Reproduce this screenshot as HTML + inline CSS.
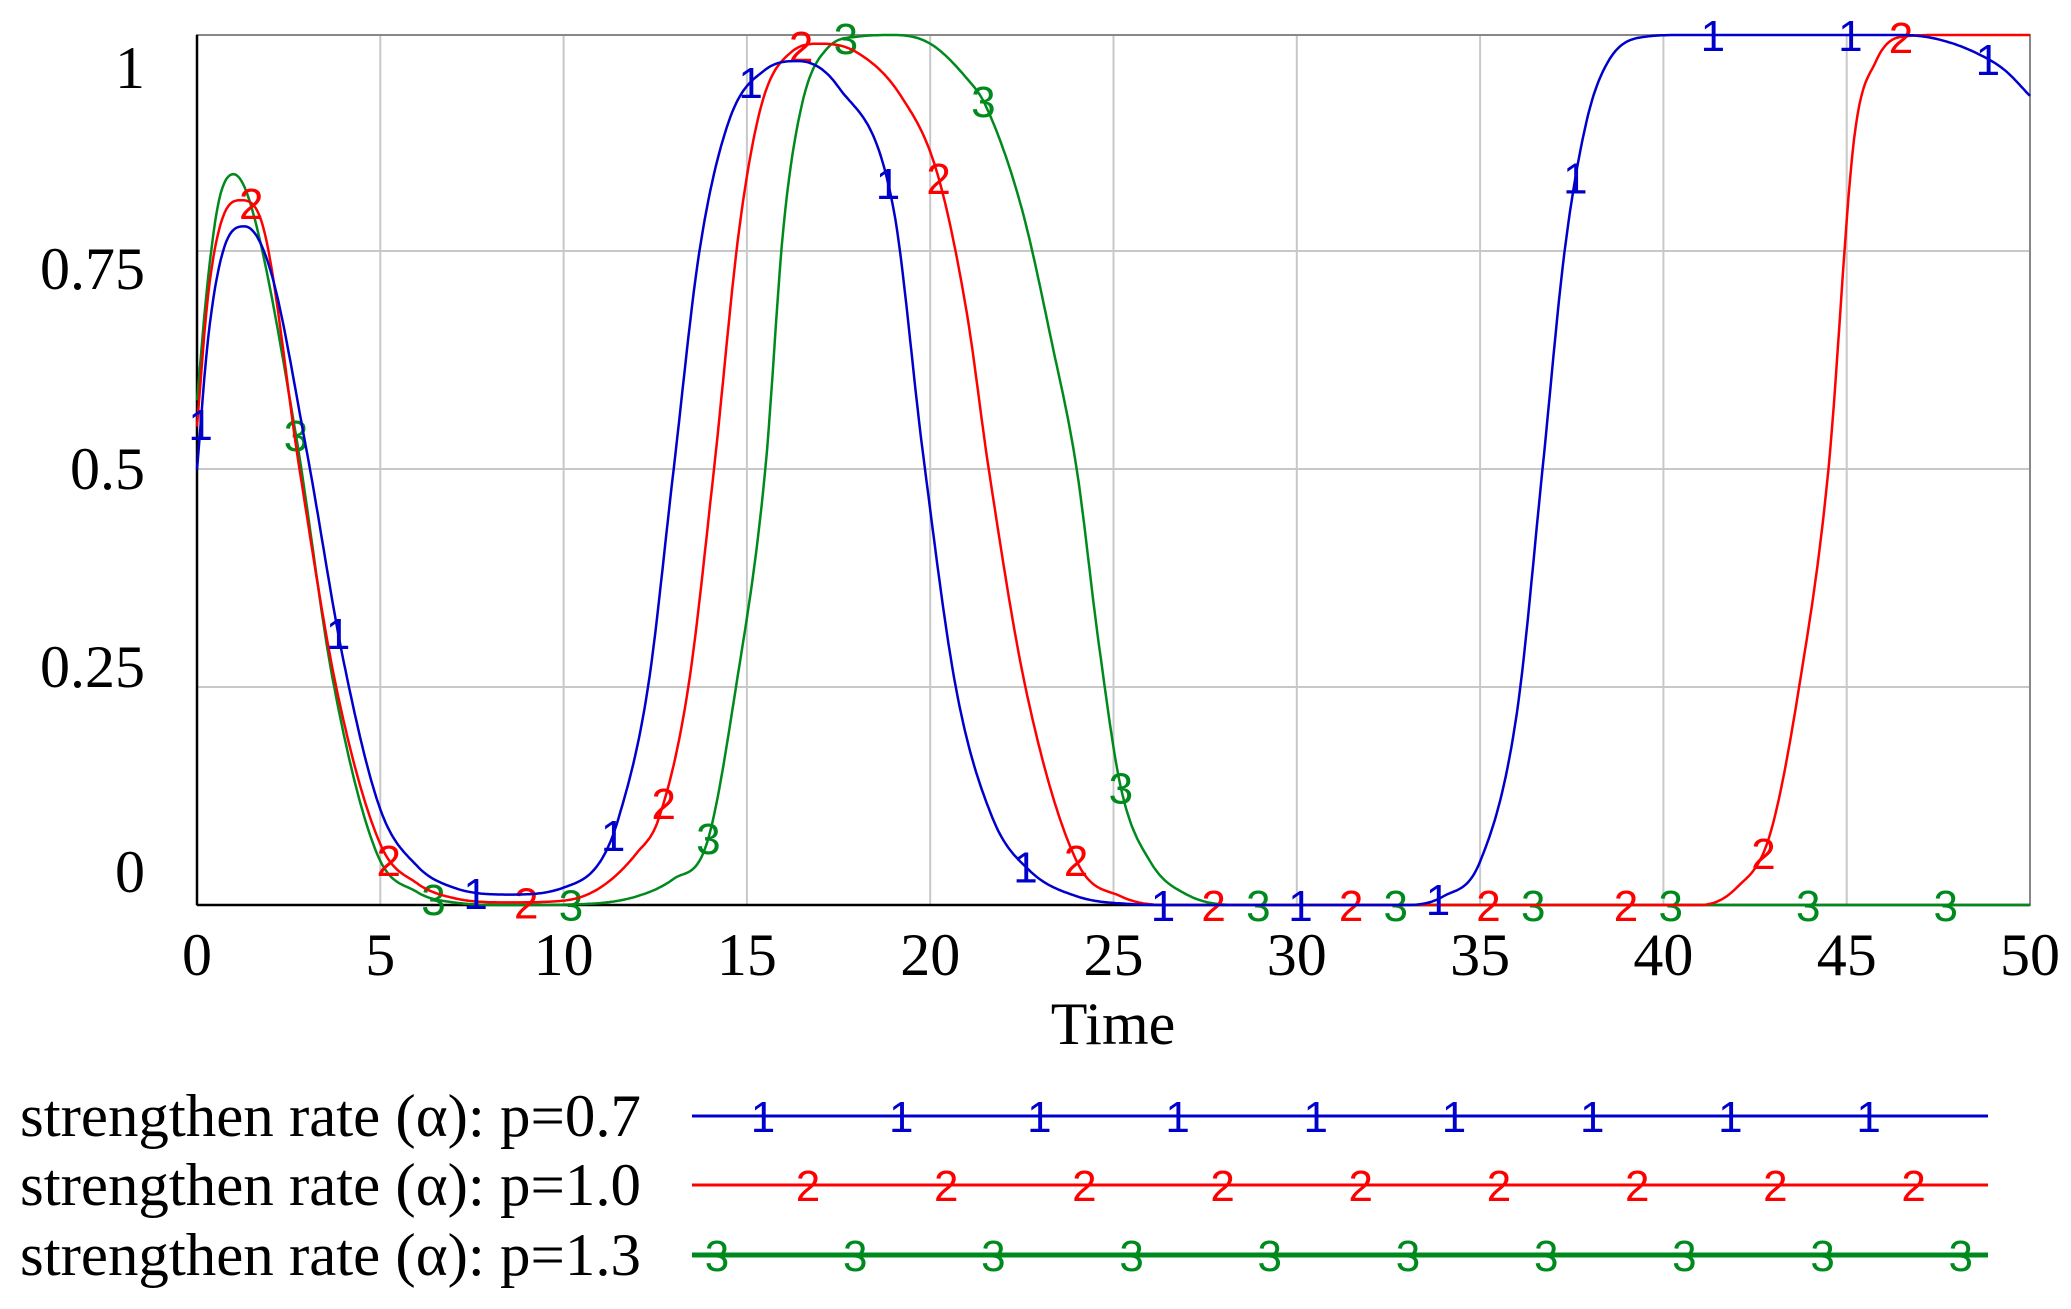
<!DOCTYPE html>
<html><head><meta charset="utf-8"><style>
html,body{margin:0;padding:0;background:#fff;}
svg{display:block;}
.tk{font-family:"Liberation Serif",serif;font-size:60px;fill:#000;}
.mk{font-family:"Liberation Sans",sans-serif;font-size:44px;}
</style></head><body>
<svg id="s" width="2071" height="1309" viewBox="0 0 2071 1309" xmlns="http://www.w3.org/2000/svg">
<g stroke="#c8c8c8" stroke-width="2">
<line x1="197" y1="251" x2="2030" y2="251"/><line x1="197" y1="469" x2="2030" y2="469"/><line x1="197" y1="687" x2="2030" y2="687"/>
</g>
<g id="vg" stroke="#c8c8c8" stroke-width="2"></g>
<rect x="197" y="35" width="1833" height="870" fill="none" stroke="#888" stroke-width="2"/>
<line x1="197" y1="35" x2="197" y2="905" stroke="#000" stroke-width="2.5"/>
<line x1="197" y1="905" x2="2030" y2="905" stroke="#000" stroke-width="2.5"/>
<g class="tk" text-anchor="end">
<text x="145" y="88">1</text><text x="145" y="289">0.75</text><text x="145" y="489">0.5</text><text x="145" y="687">0.25</text><text x="145" y="892">0</text>
</g>
<g id="xt" class="tk" text-anchor="middle"></g>
<text class="tk" x="1113" y="1044" text-anchor="middle">Time</text>
<g id="curves"></g>
<g class="tk">
<text x="20" y="1136" textLength="621" lengthAdjust="spacingAndGlyphs">strengthen rate (α): p=0.7</text>
<text x="20" y="1205" textLength="621" lengthAdjust="spacingAndGlyphs">strengthen rate (α): p=1.0</text>
<text x="20" y="1275" textLength="621" lengthAdjust="spacingAndGlyphs">strengthen rate (α): p=1.3</text>
</g>
<g id="leg"></g>
</svg>
<script>
var NS="http://www.w3.org/2000/svg";
function el(t,a,p,txt){var e=document.createElementNS(NS,t);for(var k in a)e.setAttribute(k,a[k]);if(txt!==undefined)e.textContent=txt;p.appendChild(e);return e;}
var X=function(t){return 197+t*36.66;},Y=function(v){return 905-v*870;};
var vg=document.getElementById('vg'),xt=document.getElementById('xt');
for(var i=0;i<=10;i++){var x=X(i*5);if(i>0&&i<10)el('line',{x1:x,y1:35,x2:x,y2:905},vg);el('text',{x:x,y:975},xt,String(i*5));}
function mono(pts){var n=pts.length,xs=pts.map(p=>p[0]),ys=pts.map(p=>p[1]),d=[],m=[];
for(var i=0;i<n-1;i++)d.push((ys[i+1]-ys[i])/(xs[i+1]-xs[i]));
m[0]=d[0];m[n-1]=d[n-2];for(i=1;i<n-1;i++){m[i]=(d[i-1]*d[i]<=0)?0:(d[i-1]+d[i])/2;}
for(i=0;i<n-1;i++){if(d[i]==0){m[i]=0;m[i+1]=0;continue;}var a=m[i]/d[i],b=m[i+1]/d[i],h=a*a+b*b;if(h>9){var tt=3/Math.sqrt(h);m[i]=tt*a*d[i];m[i+1]=tt*b*d[i];}}
return function(x){var k=0;while(k<n-2&&x>xs[k+1])k++;var h=xs[k+1]-xs[k],t=(x-xs[k])/h,t2=t*t,t3=t2*t;
return (2*t3-3*t2+1)*ys[k]+(t3-2*t2+t)*h*m[k]+(-2*t3+3*t2)*ys[k+1]+(t3-t2)*h*m[k+1];};}
var B=[[0,0.5],[0.3,0.65],[0.7,0.75],[1.3,0.78],[2,0.73],[3,0.52],[4,0.28],[5,0.11],[6,0.045],[7,0.02],[8.5,0.012],[10,0.02],[11,0.05],[11.5,0.1],[12.3,0.25],[13,0.5],[13.7,0.75],[14.5,0.9],[15.5,0.96],[16.4,0.97],[17.5,0.94],[19,0.8],[19.8,0.52],[20.7,0.25],[21.7,0.1],[22.7,0.04],[24,0.01],[25.5,0.001],[26.5,0],[33,0],[34,0.01],[35,0.05],[36,0.22],[36.7,0.5],[37.3,0.75],[37.9,0.9],[38.5,0.97],[39.5,0.998],[40.5,1],[46.5,1],[47.5,0.995],[48.5,0.98],[49.3,0.96],[50,0.93]];
var R=[[0,0.55],[0.3,0.7],[0.7,0.79],[1.2,0.81],[1.8,0.78],[2.8,0.5],[3.8,0.25],[5,0.07],[6,0.025],[7,0.008],[8.5,0.003],[10,0.005],[11,0.02],[12,0.06],[12.6,0.1],[13.4,0.25],[14.1,0.5],[14.8,0.78],[15.4,0.92],[16.2,0.98],[17,0.99],[18,0.98],[19.2,0.93],[20.2,0.84],[21,0.68],[21.6,0.5],[22.6,0.25],[24,0.05],[25.2,0.01],[26.5,0],[41,0],[42,0.02],[42.9,0.08],[43.7,0.25],[44.5,0.5],[45.2,0.88],[45.8,0.97],[46.5,0.998],[47.5,1],[50,1]];
var G=[[0,0.58],[0.3,0.72],[0.6,0.81],[1,0.84],[1.5,0.8],[2.7,0.54],[3.7,0.26],[4.9,0.06],[6,0.015],[7,0.003],[8.5,0],[10.5,0.001],[12,0.01],[13,0.03],[13.9,0.07],[14.7,0.25],[15.5,0.5],[16,0.78],[16.5,0.92],[17.2,0.985],[18,0.998],[19,1],[20,0.99],[21,0.95],[21.5,0.92],[22.5,0.8],[23.3,0.65],[24,0.5],[24.6,0.3],[25.2,0.135],[26,0.05],[27,0.012],[28.5,0],[50,0]];
var cg=document.getElementById('curves');
function draw(pts,col,w,t0,lab){var f=mono(pts),d='';for(var t=0;t<=50.0001;t+=0.05){var v=Math.max(0,Math.min(1,f(t)));d+=(t==0?'M':'L')+X(t).toFixed(1)+' '+Y(v).toFixed(1);}
el('path',{d:d,fill:'none',stroke:col,'stroke-width':w},cg);
for(var t=t0;t<50;t+=3.75){var v=Math.max(0,Math.min(1,f(t)));el('text',{x:X(t),y:Y(v)+16,'text-anchor':'middle',fill:col,class:'mk'},cg,lab);}}
draw(G,'#008a1e',2.5,2.7,'3');draw(R,'#ff0000',2.5,1.48,'2');draw(B,'#0000cc',2.5,0.1,'1');
var lg=document.getElementById('leg');
var L=[[1116,'#0000cc',3,763,'1',9],[1185,'#ff0000',3,808,'2',9],[1255,'#008a1e',5,717,'3',10]];
L.forEach(function(r){el('line',{x1:692,y1:r[0],x2:1988,y2:r[0],stroke:r[1],'stroke-width':r[2]},lg);
for(var i=0;i<r[5];i++)el('text',{x:r[3]+i*138.2,y:r[0]+16,'text-anchor':'middle',fill:r[1],class:'mk'},lg,r[4]);});
</script>
</body></html>
